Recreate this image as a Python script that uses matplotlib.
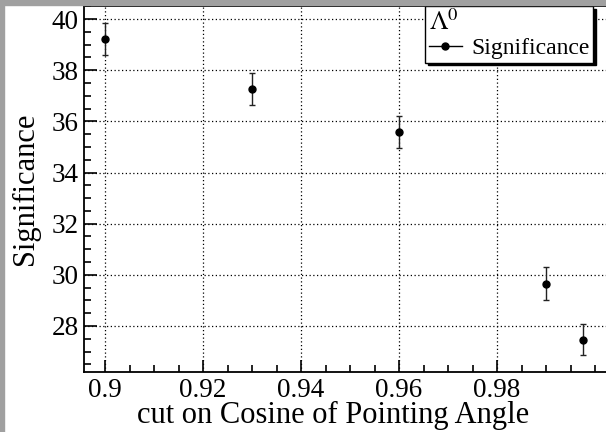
import matplotlib
matplotlib.use('Agg')
import matplotlib.pyplot as plt
from matplotlib.patches import Rectangle
from matplotlib.lines import Line2D
from matplotlib.ticker import MultipleLocator

cuts = [0.90, 0.93, 0.96, 0.99, 0.9975]
significance = [39.22, 37.27, 35.59, 29.66, 27.47]
errors = [0.62, 0.62, 0.62, 0.64, 0.62]

plt.rcParams['font.family'] = ['Liberation Serif', 'DejaVu Serif']
plt.rcParams['mathtext.fontset'] = 'stix'

fig = plt.figure(figsize=(6.06, 4.32), dpi=100, facecolor='white')
W, H = 606, 432
ax = fig.add_axes([84 / W, 60 / H, 540 / W, 366 / H])

ax.errorbar(cuts, significance, yerr=errors, fmt='o', color='black', markersize=5,
            elinewidth=1, capsize=2.5, capthick=1, ecolor='#222222', zorder=3)

ax.set_xlim(0.8957, 0.8957 + 540 / 4900)
ax.set_ylim(26.2, 40.51)
ax.xaxis.set_minor_locator(MultipleLocator(0.005))
ax.yaxis.set_major_locator(MultipleLocator(2))
ax.yaxis.set_minor_locator(MultipleLocator(0.5))
ax.set_xticks([0.9, 0.92, 0.94, 0.96, 0.98])
ax.set_xticklabels(['0.9', '0.92', '0.94', '0.96', '0.98'])
ax.tick_params(which='both', direction='in', labelsize=19.5, pad=4, width=1.2)
ax.tick_params(which='major', length=9)
ax.tick_params(which='minor', length=5)
ax.grid(True, which='major', color='black', linestyle=(0, (1, 2)), linewidth=0.9)
for s in ax.spines.values():
    s.set_linewidth(1.3)

ax.set_xlabel('cut on Cosine of Pointing Angle', fontsize=22)
ax.xaxis.set_label_coords((333 - 84) / 540, -29 / 366)
ax.set_ylabel('Significance', fontsize=22, labelpad=8)

handle = Line2D([], [], color='black', marker='o', markersize=5, linewidth=1)
leg = ax.legend([handle], ['Significance'], loc='upper left', bbox_to_anchor=(425 / W, 1 - 6 / H),
                bbox_transform=fig.transFigure, title=r'$\Lambda^0$', alignment='left',
                fontsize=17, title_fontsize=19, frameon=True, fancybox=False, edgecolor='black',
                framealpha=1, shadow={'color': 'black', 'alpha': 1}, borderaxespad=0,
                borderpad=0.15, handlelength=1.4, handletextpad=0.4, labelspacing=0.1)
leg.get_frame().set_linewidth(1.0)

# grey canvas border (left and top)
fig.patches.append(Rectangle((0, 0), 4 / W, 1, transform=fig.transFigure, color='#a0a0a0', zorder=10))
fig.patches.append(Rectangle((0, 1 - 5 / H), 1, 5 / H, transform=fig.transFigure, color='#a0a0a0', zorder=10))

fig.savefig('out.png', dpi=100, facecolor='white')
